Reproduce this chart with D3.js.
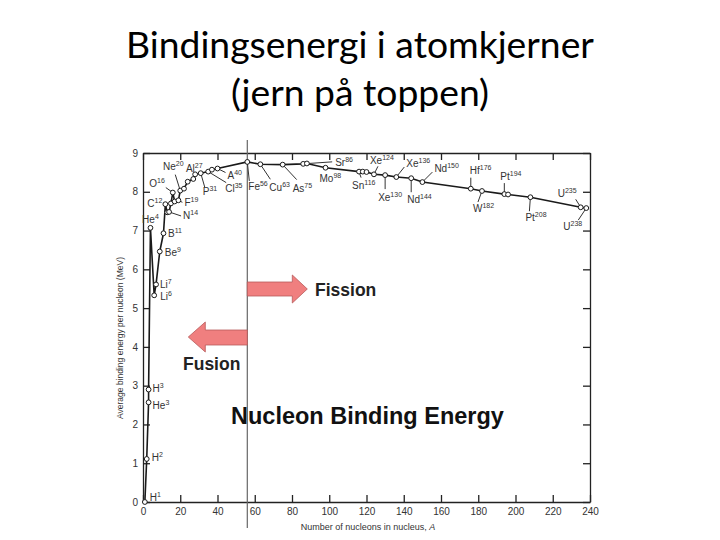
<!DOCTYPE html>
<html>
<head>
<meta charset="utf-8">
<script src="https://cdn.jsdelivr.net/npm/d3@7"></script>
<style>
  body { margin: 0; background: #fff; }
  svg { display: block; }
  .tick text { font-family: "Liberation Sans", Arial, sans-serif; font-size: 10px; fill: #333; }
  .nuc { font-family: "Liberation Sans", Arial, sans-serif; font-size: 10px; fill: #333; }
</style>
</head>
<body>
<script>
// nucleon number A and binding energy per nucleon (MeV), in order of A
var massNumbers = [1, 2, 3, 3, 4, 6, 7, 9, 11, 12, 13, 14, 15, 16, 17, 19, 20, 22, 24, 27, 28, 31, 35, 37, 40,
                   56, 63, 75, 86, 88, 98, 116, 118, 120, 124, 130, 136, 144, 150, 176, 182, 194, 196, 208, 235, 238];
var bindingEnergy = [0, 1.11, 2.57, 2.9, 7.07, 5.33, 5.61, 6.46, 6.93, 7.68, 7.47, 7.48, 7.70, 7.98, 7.75, 7.78, 8.03, 8.08, 8.26, 8.33, 8.45, 8.48, 8.52, 8.57, 8.60,
                     8.77, 8.71, 8.70, 8.72, 8.73, 8.62, 8.52, 8.52, 8.51, 8.45, 8.43, 8.38, 8.35, 8.25, 8.08, 8.02, 7.94, 7.93, 7.86, 7.60, 7.58];

// labelled nuclides: index into the arrays above
var labelIndex = [0, 1, 2, 3, 4, 5, 6, 7, 8, 9, 11, 13, 15, 16, 19, 21, 22, 24,
                  25, 26, 27, 28, 30, 31, 34, 35, 36, 37, 38, 39, 40, 41, 43, 44, 45];
var labelSymbols = ["H", "H", "He", "H", "He", "Li", "Li", "Be", "B", "C", "N", "O", "F", "Ne", "Al", "P", "Cl", "A",
                    "Fe", "Cu", "As", "Sr", "Mo", "Sn", "Xe", "Xe", "Xe", "Nd", "Nd", "Hf", "W", "Pt", "Pt", "U", "U"];

var xTicks = d3.range(0, 241, 20);
var yTicks = d3.range(0, 10, 1);

// label placement relative to the point: [text dx, text dy, anchor, leader dx, leader dy]
var labelLayout = [
  [5, -1, "start"], [5, 2, "start"], [4, 7, "start"], [4, 2, "start"], [0, -5, "middle"],
  [6, 5, "start"], [4, 4, "start"], [5, 5, "start"], [4.5, 4, "start"], [-3, 3, "end"],
  [14, 7, "start", 12, 4], [-8, -6, "end", -7, -5], [6, 6, "start", 4, 2], [-7, -21, "middle", -5, -16],
  [1, -7, "middle"], [2, 22, "start", 4, 14], [17, 20, "start", 18, 11], [10, 10, "start", 8, 4],
  [1, 28, "start", 2, 19], [9, 27, "start", 10, 15], [10, 27, "start", 14, 15], [32, 2, "start", 29, -2],
  [-6, 14, "start"], [-7, 17, "start", 2, 6], [-4, -10, "start", 4, -8], [-7, 26, "start", 0, 14],
  [10, -10, "start", 8, -10], [-4, 25, "start", 0, 14], [12, -10, "start", 10, -10], [-1, -15, "start", 0, -11],
  [-9, 21, "start", -4, 11], [-4, -14, "start", 0, -11], [-5, 24, "start", -1, 14], [-23, -10, "start", -5, -8],
  [-23, 22, "start", -8, 12]
];

var width = 720, height = 540;
var svg = d3.select("body").append("svg")
    .attr("width", width)
    .attr("height", height);

// title
var title = svg.append("g")
    .style("font-family", "Lato, 'Open Sans', sans-serif")
    .style("fill", "#000");
var t1 = title.append("text").attr("x", 360).attr("y", 58)
    .attr("text-anchor", "middle").style("font-size", "40px")
    .text("Bindingsenergi i atomkjerner");
var w1 = t1.node().getComputedTextLength();
var fs = 40 * 468 / w1;
t1.style("font-size", fs + "px");
title.append("text").attr("x", 360).attr("y", 106)
    .attr("text-anchor", "middle").style("font-size", fs + "px")
    .text("(jern på toppen)");

var x = d3.scaleLinear().domain([0, 240]).range([143, 590]);
var y = d3.scaleLinear().domain([0, 9]).range([502, 153]);

var axisColor = "#222";

svg.append("g")
    .attr("transform", "translate(0," + y(0) + ")")
    .call(d3.axisBottom(x).tickValues(xTicks).tickSize(-7).tickSizeOuter(0).tickPadding(6));
svg.append("g")
    .attr("transform", "translate(0," + y(9) + ")")
    .call(d3.axisTop(x).tickValues(xTicks).tickSize(-7).tickSizeOuter(0).tickFormat(""));
svg.append("g")
    .attr("transform", "translate(" + x(0) + ",0)")
    .call(d3.axisLeft(y).tickValues(yTicks).tickSize(-7).tickSizeOuter(0).tickPadding(5));
svg.append("g")
    .attr("transform", "translate(" + x(240) + ",0)")
    .call(d3.axisRight(y).tickValues(yTicks).tickSize(-7).tickSizeOuter(0).tickFormat(""));

svg.selectAll(".domain, .tick line")
    .style("stroke", axisColor)
    .style("stroke-width", 1.3);

// axis titles
var xl = svg.append("text")
    .attr("x", 368).attr("y", 530)
    .attr("text-anchor", "middle")
    .style("font-family", "'Liberation Sans', Arial, sans-serif")
    .style("font-size", "9px").style("fill", "#333")
    .text("Number of nucleons in nucleus, ");
xl.append("tspan").style("font-style", "italic").text("A");

svg.append("text")
    .attr("transform", "translate(123,338)rotate(-90)")
    .attr("text-anchor", "middle")
    .style("font-family", "'Liberation Sans', Arial, sans-serif")
    .style("font-size", "8.5px").style("fill", "#333")
    .text("Average binding energy per nucleon (MeV)");

// iron divider
var vx = x(56);
svg.append("line")
    .attr("x1", vx).attr("x2", vx)
    .attr("y1", 140).attr("y2", 528)
    .style("stroke", "#666").style("stroke-width", 1.2);

// fission / fusion arrows
var arrowFill = "#f07f7f", arrowStroke = "#b85a5a";
svg.append("polygon")
    .attr("points", [[vx, 282], [vx + 45, 282], [vx + 45, 275], [vx + 60, 289], [vx + 45, 303], [vx + 45, 296], [vx, 296]].join(" "))
    .style("fill", arrowFill).style("stroke", arrowStroke).style("stroke-width", 0.8);
svg.append("polygon")
    .attr("points", [[vx, 330], [vx - 42, 330], [vx - 42, 322], [vx - 59, 337], [vx - 42, 352], [vx - 42, 345], [vx, 345]].join(" "))
    .style("fill", arrowFill).style("stroke", arrowStroke).style("stroke-width", 0.8);

var bold = "'Liberation Sans', Arial, sans-serif";
svg.append("text").attr("x", 315).attr("y", 296)
    .style("font-family", bold).style("font-weight", "bold").style("font-size", "17.5px").style("fill", "#222")
    .text("Fission");
svg.append("text").attr("x", 183).attr("y", 370)
    .style("font-family", bold).style("font-weight", "bold").style("font-size", "17.5px").style("fill", "#222")
    .text("Fusion");
svg.append("text").attr("x", 231).attr("y", 424)
    .style("font-family", bold).style("font-weight", "bold").style("font-size", "23.5px").style("fill", "#111")
    .text("Nucleon Binding Energy");

// curve
var pts = massNumbers.map(function(a, i){ return [a, bindingEnergy[i]]; });
var line = d3.line()
    .x(function(d){ return x(d[0]); })
    .y(function(d){ return y(d[1]); });

svg.append("path")
    .datum(pts)
    .attr("d", line)
    .style("fill", "none")
    .style("stroke", "#1a1a1a")
    .style("stroke-width", 1.6);

// leaders
var labels = labelIndex.map(function(idx, i){
  return { px: x(massNumbers[idx]), py: y(bindingEnergy[idx]), sym: labelSymbols[i], a: massNumbers[idx], lay: labelLayout[i] };
});

svg.selectAll(".leader")
    .data(labels.filter(function(d){ return d.lay.length > 3; }))
  .enter().append("line")
    .attr("class", "leader")
    .attr("x1", function(d){ return d.px; })
    .attr("y1", function(d){ return d.py; })
    .attr("x2", function(d){ return d.px + d.lay[3]; })
    .attr("y2", function(d){ return d.py + d.lay[4]; })
    .style("stroke", "#333").style("stroke-width", 1);

svg.selectAll(".pt")
    .data(pts)
  .enter().append("circle")
    .attr("class", "pt")
    .attr("cx", function(d){ return x(d[0]); })
    .attr("cy", function(d){ return y(d[1]); })
    .attr("r", 2.4)
    .style("fill", "#fff")
    .style("stroke", "#1a1a1a")
    .style("stroke-width", 1);

var lab = svg.selectAll(".nuc")
    .data(labels)
  .enter().append("text")
    .attr("class", "nuc")
    .attr("x", function(d){ return d.px + d.lay[0]; })
    .attr("y", function(d){ return d.py + d.lay[1]; })
    .attr("text-anchor", function(d){ return d.lay[2]; })
    .text(function(d){ return d.sym; });
lab.append("tspan")
    .attr("dy", -4)
    .style("font-size", "7px")
    .text(function(d){ return d.a; });
</script>
</body>
</html>
